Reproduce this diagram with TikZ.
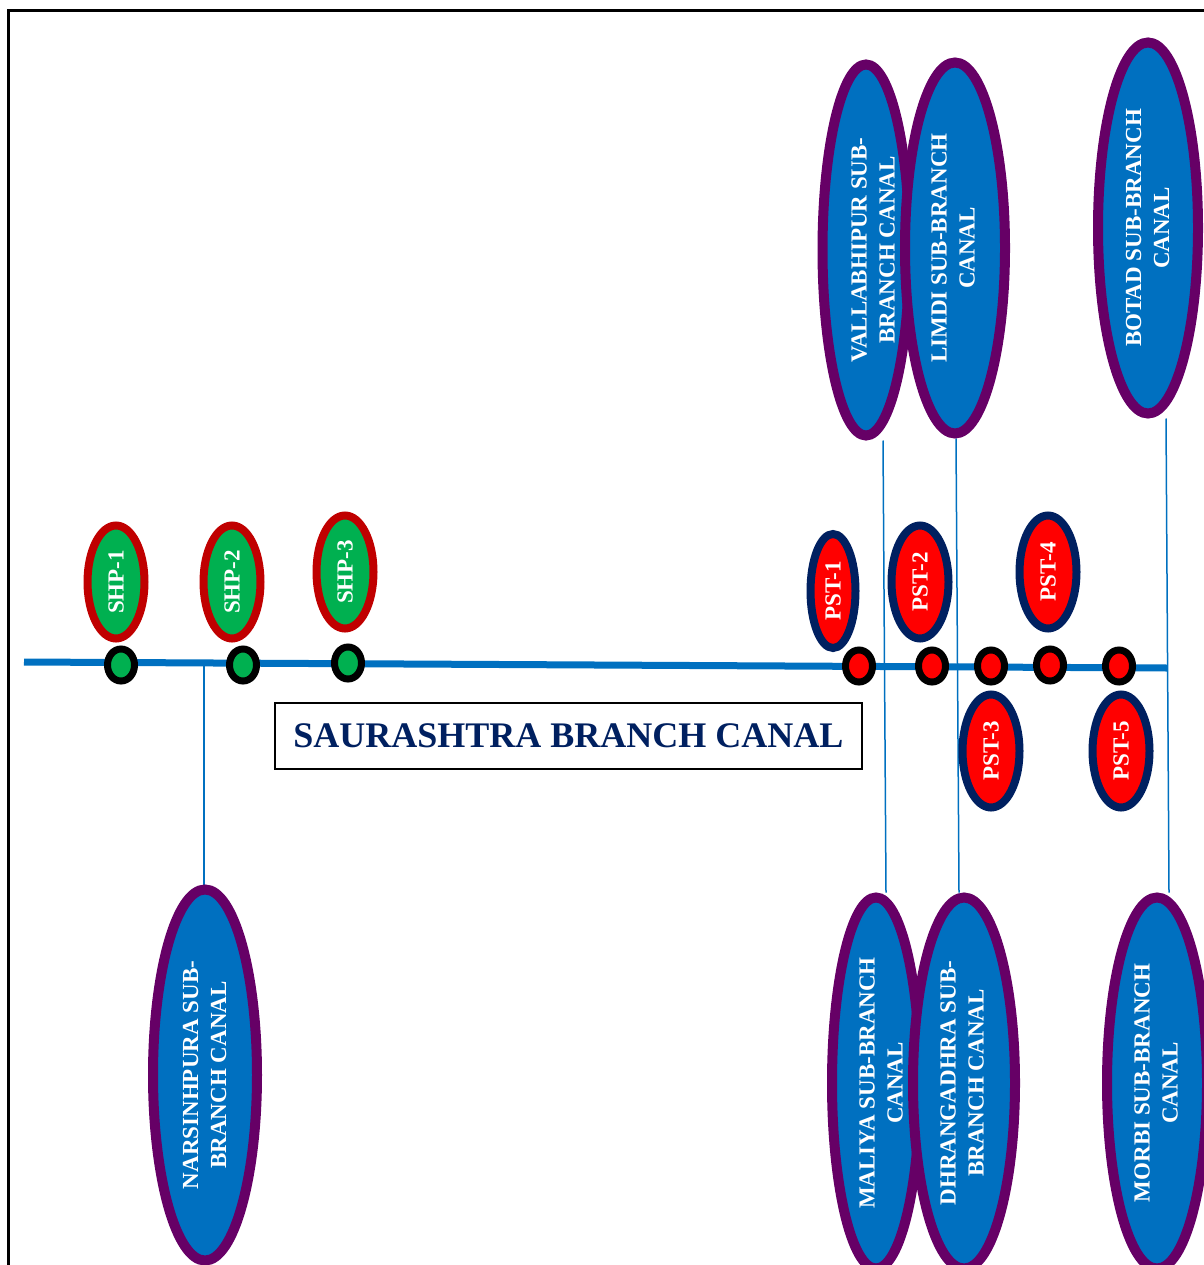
\documentclass[tikz,border=0pt]{standalone}
\usepackage{fontspec}
\setmainfont{Liberation Serif}
\usepackage{graphicx}
\usetikzlibrary{shapes.geometric,backgrounds}
\definecolor{canalblue}{RGB}{0,112,192}
\definecolor{borderpurple}{RGB}{102,0,102}
\definecolor{shpred}{RGB}{192,0,0}
\definecolor{shpgreen}{RGB}{0,176,80}
\definecolor{navyblue}{RGB}{0,32,96}
\definecolor{pstred}{RGB}{255,0,0}
\newcommand\mylab[1]{\rotatebox{90}{\begin{tabular}{@{}c@{}}#1\end{tabular}}}
\newcommand\shiftlab[2]{\makebox[0pt]{\hspace*{#1}\mylab{#2}}}
\begin{document}
\begin{tikzpicture}[x=1pt,y=-1pt,
  bigell/.style={ellipse, draw=borderpurple, line width=10pt, fill=canalblue, inner sep=0pt,
    text=white, font=\bfseries\fontsize{23}{28}\selectfont, minimum height=371pt},
  smallell/.style={ellipse, line width=8pt, inner sep=0pt, text=white,
    font=\bfseries\fontsize{23}{28}\selectfont, minimum width=57pt, minimum height=113pt},
  shp/.style={smallell, draw=shpred, fill=shpgreen},
  pst/.style={smallell, draw=navyblue, fill=pstred},
  junc/.style={ellipse, draw=black, line width=7pt, minimum width=27pt, minimum height=32pt, inner sep=0pt},
  greenjunc/.style={junc, fill=shpgreen},
  redjunc/.style={junc, fill=pstred},
  conn/.style={draw=canalblue, line width=1.5pt},
  canal/.style={draw=canalblue, line width=7pt},
  titlebox/.style={draw=black, line width=2pt, minimum width=587pt, minimum height=66pt,
    text=navyblue, font=\bfseries\fontsize{36}{40}\selectfont, inner sep=0pt},
  frameline/.style={draw=black, line width=3pt}
]
\useasboundingbox (0,0) rectangle (1203,1265);

% frame
\coordinate (f1) at (8,1270);
\coordinate (f2) at (8,11);
\coordinate (f3) at (1210,11);
\draw[frameline] (f1) -- (f2) -- (f3);

% canal endpoints
\coordinate (cw) at (24,662);
\coordinate (ce) at (1167,668);
\coordinate (nj) at (204,666);

% big ellipses
\node[bigell, minimum width=104pt] (nars) at (205,1075) {\shiftlab{3pt}{NARSINHPURA SUB-\\BRANCH CANAL}};
\node[bigell, minimum width=87pt] (vall) at (866,250) {\shiftlab{18pt}{VALLABHIPUR SUB-\\BRANCH CANAL}};
\node[bigell, minimum width=100pt] (limdi) at (955,248) {\shiftlab{0pt}{LIMDI SUB-BRANCH\\CANAL}};
\node[bigell, minimum width=100pt] (botad) at (1148,228) {\shiftlab{3pt}{BOTAD SUB-BRANCH\\CANAL}};
\node[bigell, minimum width=88pt] (mali) at (876,1083) {\shiftlab{14pt}{MALIYA SUB-BRANCH\\CANAL}};
\node[bigell, minimum width=102pt] (dhra) at (964,1083) {\shiftlab{0pt}{DHRANGADHRA SUB-\\BRANCH CANAL}};
\node[bigell, minimum width=100pt] (morbi) at (1157,1083) {\shiftlab{2pt}{MORBI SUB-BRANCH\\CANAL}};

% small ellipses: SHP
\node[shp] (shp1) at (116,582) {\rotatebox{90}{SHP-1}};
\node[shp] (shp2) at (232,582) {\rotatebox{90}{SHP-2}};
\node[shp] (shp3) at (345,572) {\rotatebox{90}{SHP-3}};

% small ellipses: PST
\node[pst, minimum width=45pt, minimum height=114pt] (pst1) at (833,591) {\rotatebox{90}{PST-1}};
\node[pst] (pst2) at (920,582) {\rotatebox{90}{PST-2}};
\node[pst] (pst4) at (1048,572) {\rotatebox{90}{PST-4}};
\node[pst] (pst3) at (991,751) {\rotatebox{90}{PST-3}};
\node[pst] (pst5) at (1121,751) {\rotatebox{90}{PST-5}};

% junction dots
\node[greenjunc] (g1) at (121,665) {};
\node[greenjunc] (g2) at (243,665) {};
\node[greenjunc] (g3) at (348,663) {};
\node[redjunc] (r1) at (859,666) {};
\node[redjunc] (r2) at (932,666) {};
\node[redjunc] (r3) at (991,666) {};
\node[redjunc] (r4) at (1050,665) {};
\node[redjunc] (r5) at (1119,666) {};

% title
\node[titlebox] (title) at (568.5,736) {SAURASHTRA BRANCH CANAL};

% connectors and canal behind
\begin{scope}[on background layer]
\draw[conn] (nj) -- ([xshift=-1pt]nars.north);
\draw[conn] ([xshift=17pt]vall.south) -- ([xshift=10pt]mali.north);
\draw[conn] ([xshift=1pt]limdi.south) -- ([xshift=-5pt]dhra.north);
\draw[conn] ([xshift=18pt]botad.south) -- ([xshift=12pt]morbi.north);
\draw[canal] (cw) -- (ce);
\end{scope}
\end{tikzpicture}
\end{document}
